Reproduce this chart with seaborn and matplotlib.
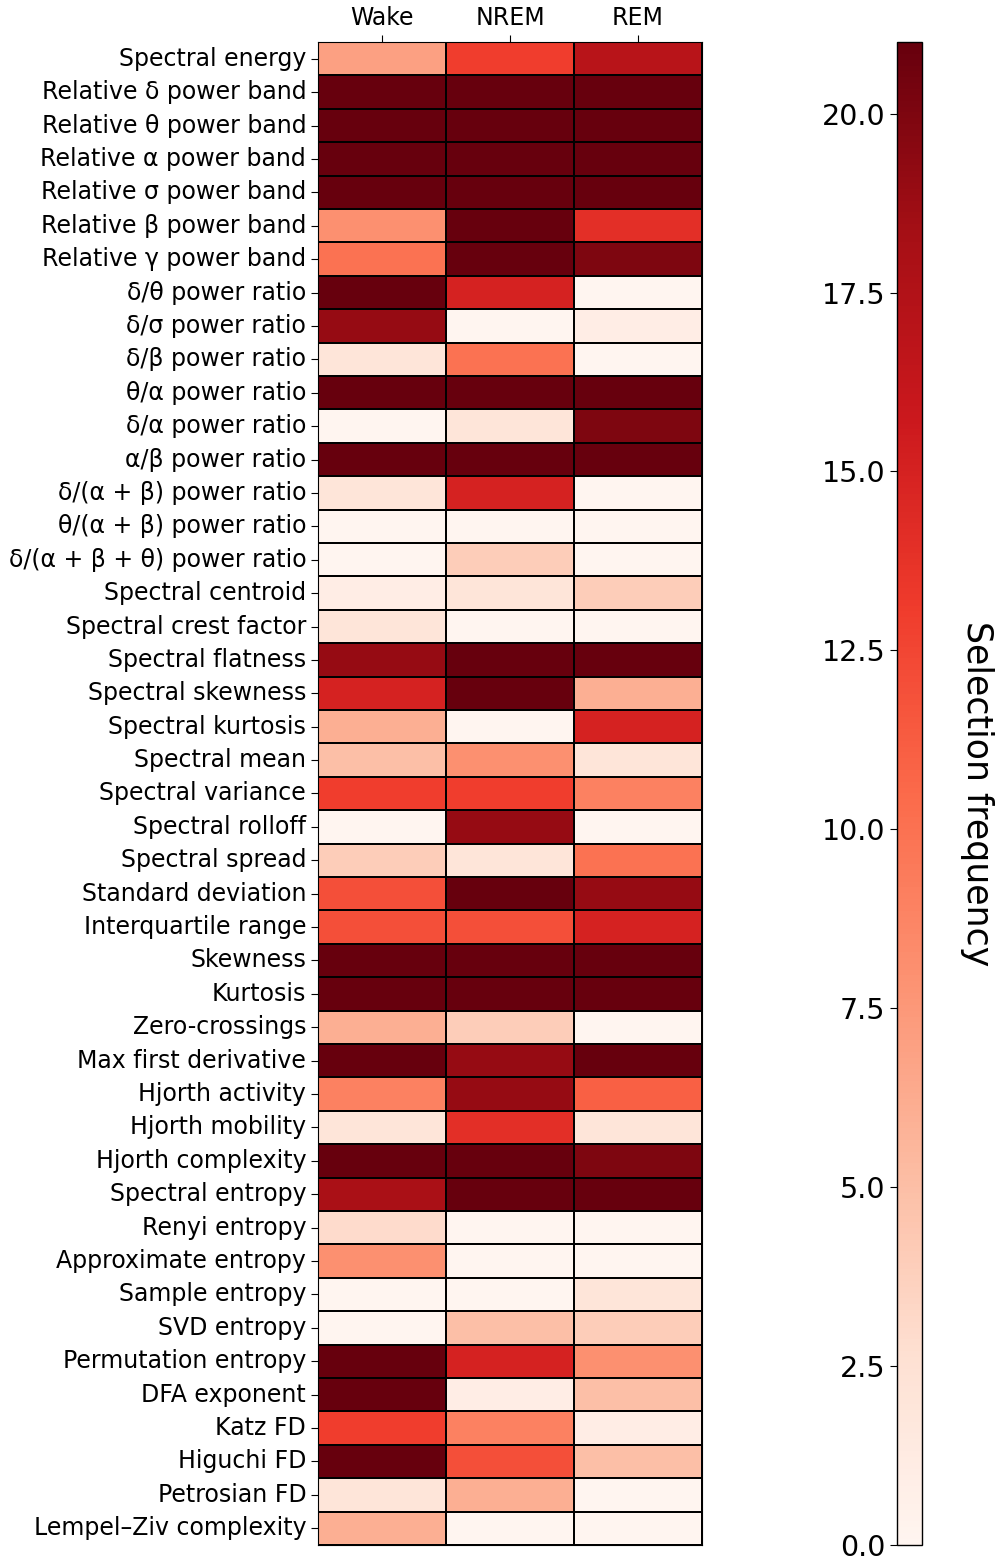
import numpy as np
import pandas as pd
import matplotlib
matplotlib.use("Agg")
import matplotlib.pyplot as plt
import seaborn as sns

features = [
    "Spectral energy", "Relative δ power band", "Relative θ power band",
    "Relative α power band", "Relative σ power band", "Relative β power band",
    "Relative γ power band", "δ/θ power ratio", "δ/σ power ratio",
    "δ/β power ratio", "θ/α power ratio", "δ/α power ratio", "α/β power ratio",
    "δ/(α + β) power ratio", "θ/(α + β) power ratio", "δ/(α + β + θ) power ratio",
    "Spectral centroid", "Spectral crest factor", "Spectral flatness",
    "Spectral skewness", "Spectral kurtosis", "Spectral mean",
    "Spectral variance", "Spectral rolloff", "Spectral spread",
    "Standard deviation", "Interquartile range", "Skewness", "Kurtosis",
    "Zero-crossings", "Max first derivative", "Hjorth activity",
    "Hjorth mobility", "Hjorth complexity", "Spectral entropy",
    "Renyi entropy", "Approximate entropy", "Sample entropy", "SVD entropy",
    "Permutation entropy", "DFA exponent", "Katz FD", "Higuchi FD",
    "Petrosian FD", "Lempel–Ziv complexity",
]
stages = ["Wake", "NREM", "REM"]

wake = [7, 21, 21, 21, 21, 8, 10, 21, 19, 2, 21, 0, 21, 2, 0, 0, 1, 2, 19, 15,
        6, 5, 13, 0, 4, 12, 12, 21, 21, 6, 21, 9, 2, 21, 18, 3, 8, 0, 0, 21,
        21, 13, 21, 2, 6]
nrem = [13, 21, 21, 21, 21, 21, 21, 15, 0, 10, 21, 2, 21, 15, 0, 4, 2, 0, 21, 21,
        0, 8, 13, 19, 2, 21, 12, 21, 21, 4, 19, 19, 14, 21, 21, 0, 0, 0, 5, 15,
        1, 9, 12, 6, 0]
rem = [17, 21, 21, 21, 21, 14, 20, 0, 1, 0, 21, 20, 21, 0, 0, 0, 4, 0, 21, 6,
       15, 2, 9, 0, 10, 19, 15, 21, 21, 0, 21, 11, 2, 20, 21, 0, 0, 2, 4, 8,
       5, 1, 5, 0, 0]

df = pd.DataFrame({"Wake": wake, "NREM": nrem, "REM": rem}, index=features)

fig = plt.figure(figsize=(10, 15.62), dpi=100)
ax = fig.add_axes([0.318, 0.0109, 0.384, 0.9622])
cax = fig.add_axes([0.897, 0.0109, 0.025, 0.9622])

sns.heatmap(df, ax=ax, cbar_ax=cax, cmap="Reds", vmin=0, vmax=21,
            linewidths=1.2, linecolor="black")

ax.xaxis.tick_top()
ax.set_xticklabels(stages, fontsize=17, rotation=0)
ax.set_yticklabels(features, fontsize=17, rotation=0)
ax.tick_params(axis="both", length=5)
for s in ax.spines.values():
    s.set_visible(True)
    s.set_color("black")

cb = ax.collections[0].colorbar
cb.set_ticks([0, 2.5, 5, 7.5, 10, 12.5, 15, 17.5, 20])
cb.ax.set_yticklabels(["0.0", "2.5", "5.0", "7.5", "10.0", "12.5", "15.0", "17.5", "20.0"])
cb.ax.yaxis.set_ticks_position("left")
cb.ax.tick_params(labelsize=20.5, length=5)
cb.outline.set_visible(True)
cb.outline.set_edgecolor("black")
cb.outline.set_linewidth(1.0)
cb.ax.set_ylabel("Selection frequency", fontsize=25, rotation=270, labelpad=52)
cb.ax.yaxis.set_label_position("right")

fig.savefig("out.png", dpi=100)
